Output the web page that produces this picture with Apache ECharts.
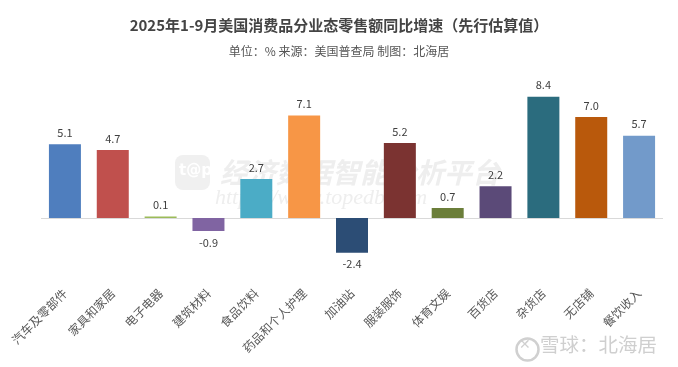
<!DOCTYPE html>
<html>
<head>
<meta charset="utf-8">
<script src="https://cdn.jsdelivr.net/npm/echarts@6/dist/echarts.min.js"></script>
<style>html,body{margin:0;padding:0;background:#fff;}#c{width:678px;height:367px;}</style>
</head>
<body>
<div id="c"></div>
<script>
const categories = ['汽车及零部件','家具和家居','电子电器','建筑材料','食品饮料','药品和个人护理','加油站','服装服饰','体育文娱','百货店','杂货店','无店铺','餐饮收入'];
const values = [5.1, 4.7, 0.1, -0.9, 2.7, 7.1, -2.4, 5.2, 0.7, 2.2, 8.4, 7.0, 5.7];
const barColors = ['#4F7EBE','#C0504D','#9BBB59','#8064A2','#4BACC6','#F79646','#2C4D75','#7B3331','#6B7E3A','#5B4A78','#2B6C7E','#B9590C','#729ACA'];
const titleText = '2025年1-9月美国消费品分业态零售额同比增速（先行估算值）';
const subtitleText = '单位：% 来源：美国普查局 制图：北海居';

const chart = echarts.init(document.getElementById('c'));
const font = '"Noto Sans CJK SC", "Noto Sans", sans-serif';
chart.setOption({
  backgroundColor: '#fff',
  animation: false,
  title: [{
    text: titleText,
    left: 'center',
    top: 13,
    textStyle: {fontSize: 15, fontWeight: 'bold', color: '#444', fontFamily: font}
  },{
    text: subtitleText,
    left: 'center',
    top: 40,
    textStyle: {fontSize: 12, fontWeight: 'normal', color: '#555', fontFamily: font}
  }],
  graphic: [
    {type: 'rect', left: 175, top: 155, z: 0, shape: {width: 35, height: 35, r: 8}, style: {fill: '#f0f0f0'}},
    {type: 'text', left: 179, top: 164, z: 0, style: {text: 't@p', fill: '#fff', font: 'bold 15px "DejaVu Sans"'}},
    {type: 'text', left: 220, top: 158, z: 0, style: {text: '经济数据智能分析平台', fill: '#eeeeee', font: 'italic bold 28px "Noto Sans CJK SC"'}},
    {type: 'text', left: 215, top: 187, z: 0, style: {text: 'https://www.topedb.com', fill: '#eeeeee', font: 'italic 22px "Liberation Serif"'}},
    {type: 'circle', left: 514, top: 336, z: 10, shape: {r: 11}, style: {fill: 'none', stroke: '#d0d0d0', lineWidth: 2.5}},
    {type: 'text', left: 519, top: 338, z: 10, style: {text: '✕', fill: '#d0d0d0', font: 'bold 14px "DejaVu Sans"'}},
    {type: 'text', left: 540, top: 335, z: 10, style: {text: '雪球：北海居', fill: '#cfcfcf', font: '19.5px "Noto Sans CJK SC"'}}
  ],
  grid: {left: 41, right: 15, top: 88, bottom: 84, containLabel: false},
  xAxis: {
    type: 'category',
    data: categories,
    axisLine: {show: false, onZero: false},
    axisTick: {show: false},
    axisLabel: {rotate: 45, interval: 0, fontSize: 12, color: '#595959', margin: 8, fontFamily: font}
  },
  yAxis: {
    type: 'value',
    min: -4.5,
    max: 9,
    show: false,
    splitLine: {show: false}
  },
  series: [{
    type: 'bar',
    barWidth: 32,
    data: values.map((v, i) => ({
      value: v,
      itemStyle: {color: barColors[i]},
      label: {position: v < 0 ? 'bottom' : 'top'}
    })),
    label: {
      show: true,
      fontSize: 11,
      color: '#404040',
      distance: 6,
      fontFamily: font,
      formatter: p => p.value.toFixed(1)
    },
    markLine: {
      silent: true,
      symbol: 'none',
      label: {show: false},
      lineStyle: {color: '#d9d9d9', type: 'solid', width: 1},
      data: [{yAxis: 0}],
      z: 1
    }
  }]
});
</script>
</body>
</html>
